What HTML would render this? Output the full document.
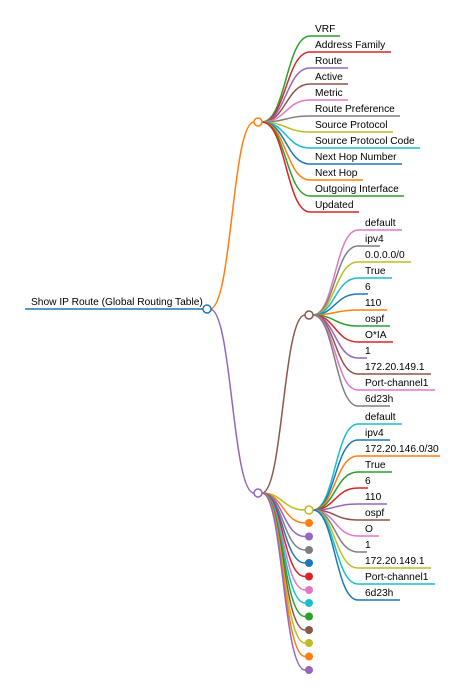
<!DOCTYPE html>
<html><head><meta charset="utf-8"><style>
html,body{margin:0;padding:0;background:#fff;width:472px;height:698px;overflow:hidden}
text{font-family:"Liberation Sans",Arial,sans-serif;font-size:10.2px;fill:#000}
path{fill:none;stroke-width:1.5}
</style></head><body>
<svg width="472" height="698" viewBox="0 0 472 698" xmlns="http://www.w3.org/2000/svg">
<!-- root -->
<path d="M25,309 H207" stroke="#1f77b4" stroke-width="3"/>
<text x="31" y="305">Show IP Route (Global Routing Table)</text>
<path d="M210,309 C232,309 232,122 254,122" stroke="#ff7f0e"/>
<path d="M210,309 C232,309 232,493 254,493" stroke="#9467bd"/>
<path d="M262,493 C283,493 283,315 305,315" stroke="#8c564b"/>

<!-- branch 1 -->
<g>
<path d="M262,122 C286,122 286,36 310,36 H340" stroke="#2ca02c"/><text x="315" y="32">VRF</text>
<path d="M262,122 C286,122 286,52 310,52 H391" stroke="#d62728"/><text x="315" y="48">Address Family</text>
<path d="M262,122 C286,122 286,68 310,68 H348" stroke="#9467bd"/><text x="315" y="64">Route</text>
<path d="M262,122 C286,122 286,84 310,84 H348" stroke="#8c564b"/><text x="315" y="80">Active</text>
<path d="M262,122 C286,122 286,100 310,100 H348" stroke="#e377c2"/><text x="315" y="96">Metric</text>
<path d="M262,122 C286,122 286,116 310,116 H400" stroke="#7f7f7f"/><text x="315" y="112">Route Preference</text>
<path d="M262,122 C286,122 286,132 310,132 H393" stroke="#bcbd22"/><text x="315" y="128">Source Protocol</text>
<path d="M262,122 C286,122 286,148 310,148 H420" stroke="#17becf"/><text x="315" y="144">Source Protocol Code</text>
<path d="M262,122 C286,122 286,164 310,164 H402" stroke="#1f77b4"/><text x="315" y="160">Next Hop Number</text>
<path d="M262,122 C286,122 286,180 310,180 H363" stroke="#ff7f0e"/><text x="315" y="176">Next Hop</text>
<path d="M262,122 C286,122 286,196 310,196 H404" stroke="#2ca02c"/><text x="315" y="192">Outgoing Interface</text>
<path d="M262,122 C286,122 286,212 310,212 H359" stroke="#d62728"/><text x="315" y="208">Updated</text>
</g>
<circle cx="258" cy="122" r="4" fill="#fff" stroke="#ff7f0e" stroke-width="1.5"/>

<!-- branch 2 -->
<g>
<path d="M313,315 C335,315 335,230 358,230 H402" stroke="#e377c2"/><text x="365" y="226">default</text>
<path d="M313,315 C335,315 335,246 358,246 H380" stroke="#7f7f7f"/><text x="365" y="242">ipv4</text>
<path d="M313,315 C335,315 335,262 358,262 H411" stroke="#bcbd22"/><text x="365" y="258">0.0.0.0/0</text>
<path d="M313,315 C335,315 335,278 358,278 H392" stroke="#17becf"/><text x="365" y="274">True</text>
<path d="M313,315 C335,315 335,294 358,294 H368" stroke="#1f77b4"/><text x="365" y="290">6</text>
<path d="M313,315 C335,315 335,310 358,310 H387" stroke="#ff7f0e"/><text x="365" y="306">110</text>
<path d="M313,315 C335,315 335,326 358,326 H390" stroke="#2ca02c"/><text x="365" y="322">ospf</text>
<path d="M313,315 C335,315 335,342 358,342 H393" stroke="#d62728"/><text x="365" y="338">O*IA</text>
<path d="M313,315 C335,315 335,358 358,358 H367" stroke="#9467bd"/><text x="365" y="354">1</text>
<path d="M313,315 C335,315 335,374 358,374 H431" stroke="#8c564b"/><text x="365" y="370">172.20.149.1</text>
<path d="M313,315 C335,315 335,390 358,390 H435" stroke="#e377c2"/><text x="365" y="386">Port-channel1</text>
<path d="M313,315 C335,315 335,406 358,406 H390" stroke="#7f7f7f"/><text x="365" y="402">6d23h</text>
</g>
<circle cx="309" cy="315" r="4" fill="#fff" stroke="#8c564b" stroke-width="1.5"/>

<!-- branch 3 children -->
<g>
<path d="M262,493 C283,493 283,510 305,510" stroke="#bcbd22"/>
<path d="M262,493 C283,493 283,523 305,523" stroke="#ff7f0e"/>
<path d="M262,493 C283,493 283,536.5 305,536.5" stroke="#9467bd"/>
<path d="M262,493 C283,493 283,550 305,550" stroke="#7f7f7f"/>
<path d="M262,493 C283,493 283,563 305,563" stroke="#1f77b4"/>
<path d="M262,493 C283,493 283,576.5 305,576.5" stroke="#d62728"/>
<path d="M262,493 C283,493 283,590 305,590" stroke="#e377c2"/>
<path d="M262,493 C283,493 283,603 305,603" stroke="#17becf"/>
<path d="M262,493 C283,493 283,616.5 305,616.5" stroke="#2ca02c"/>
<path d="M262,493 C283,493 283,630 305,630" stroke="#8c564b"/>
<path d="M262,493 C283,493 283,643 305,643" stroke="#bcbd22"/>
<path d="M262,493 C283,493 283,656.5 305,656.5" stroke="#ff7f0e"/>
<path d="M262,493 C283,493 283,670 305,670" stroke="#9467bd"/>
</g>
<circle cx="258" cy="493" r="4" fill="#fff" stroke="#9467bd" stroke-width="1.5"/>
<g>
<circle cx="309" cy="523" r="4" fill="#ff7f0e"/>
<circle cx="309" cy="536.5" r="4" fill="#9467bd"/>
<circle cx="309" cy="550" r="4" fill="#7f7f7f"/>
<circle cx="309" cy="563" r="4" fill="#1f77b4"/>
<circle cx="309" cy="576.5" r="4" fill="#d62728"/>
<circle cx="309" cy="590" r="4" fill="#e377c2"/>
<circle cx="309" cy="603" r="4" fill="#17becf"/>
<circle cx="309" cy="616.5" r="4" fill="#2ca02c"/>
<circle cx="309" cy="630" r="4" fill="#8c564b"/>
<circle cx="309" cy="643" r="4" fill="#bcbd22"/>
<circle cx="309" cy="656.5" r="4" fill="#ff7f0e"/>
<circle cx="309" cy="670" r="4" fill="#9467bd"/>
</g>

<!-- branch 3 grandchildren -->
<g>
<path d="M313,510 C335,510 335,424 358,424 H402" stroke="#17becf"/><text x="365" y="420">default</text>
<path d="M313,510 C335,510 335,440 358,440 H390" stroke="#1f77b4"/><text x="365" y="436">ipv4</text>
<path d="M313,510 C335,510 335,456 358,456 H440" stroke="#ff7f0e"/><text x="365" y="452">172.20.146.0/30</text>
<path d="M313,510 C335,510 335,472 358,472 H392" stroke="#2ca02c"/><text x="365" y="468">True</text>
<path d="M313,510 C335,510 335,488 358,488 H368" stroke="#d62728"/><text x="365" y="484">6</text>
<path d="M313,510 C335,510 335,504 358,504 H387" stroke="#9467bd"/><text x="365" y="500">110</text>
<path d="M313,510 C335,510 335,520 358,520 H390" stroke="#8c564b"/><text x="365" y="516">ospf</text>
<path d="M313,510 C335,510 335,536 358,536 H379" stroke="#e377c2"/><text x="365" y="532">O</text>
<path d="M313,510 C335,510 335,552 358,552 H367" stroke="#7f7f7f"/><text x="365" y="548">1</text>
<path d="M313,510 C335,510 335,568 358,568 H431" stroke="#bcbd22"/><text x="365" y="564">172.20.149.1</text>
<path d="M313,510 C335,510 335,584 358,584 H435" stroke="#17becf"/><text x="365" y="580">Port-channel1</text>
<path d="M313,510 C335,510 335,600 358,600 H400" stroke="#1f77b4"/><text x="365" y="596">6d23h</text>
</g>
<circle cx="309" cy="510" r="4" fill="#fff" stroke="#bcbd22" stroke-width="1.5"/>

<circle cx="207" cy="309" r="4" fill="#fff" stroke="#1f77b4" stroke-width="1.5"/>
</svg>
</body></html>
